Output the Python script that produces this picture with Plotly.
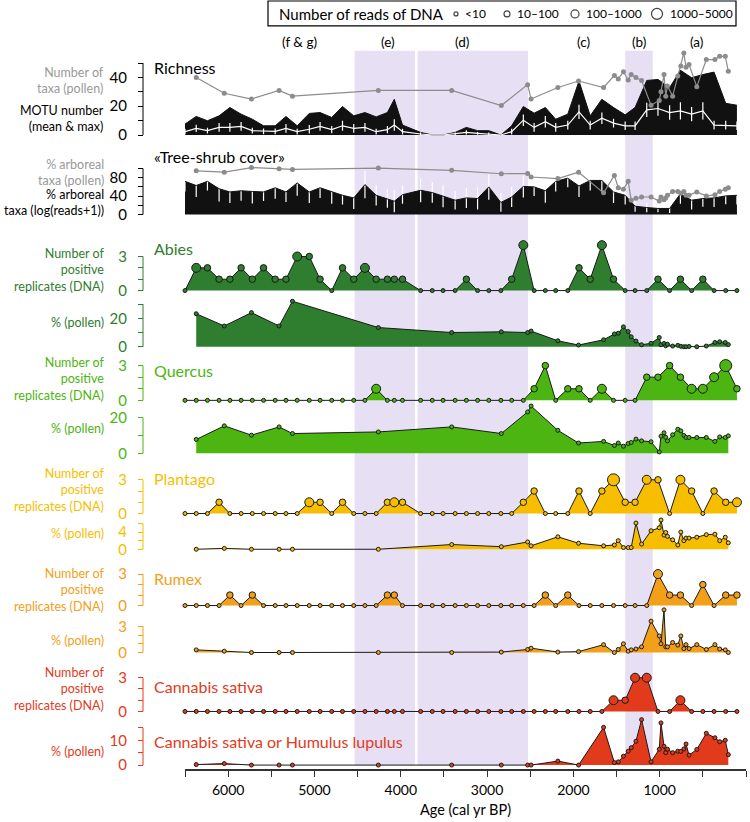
import plotly.graph_objects as go

W, H = 750, 822
FONT = "Lato"

# sample ages (cal yr BP)
dna_age = [6500, 6370, 6240, 6105, 5980, 5850, 5720, 5590, 5455, 5330,
           5200, 5060, 4935, 4800, 4675, 4545, 4415, 4285, 4155, 4075,
           3980, 3770, 3635, 3510, 3370, 3240, 3110, 2980, 2840, 2715,
           2580, 2455, 2325, 2205, 2065, 1935, 1805, 1670, 1535, 1400,
           1285, 1150, 1020, 885, 760, 630, 500, 370, 235, 105]
pollen_age = [6370, 6045, 5730, 5410, 5255, 4260, 3410, 2835, 2530, 2490,
              2180, 1940, 1650, 1525, 1480, 1420, 1365, 1330, 1275, 1210,
              1100, 1005, 985, 950, 930, 910, 850, 790, 755, 720,
              695, 660, 570, 460, 360, 305, 240, 205]

# richness
motu_max = [7.6, 12.9, 9.9, 13.3, 19.1, 14.5, 11, 6.4, 6.4, 12.9,
            6.4, 15, 15.6, 12.2, 19.8, 13.3, 15.6, 12.6, 15.6, 24.8,
            6.9, 1.8, 0, 0, 1.8, 5.3, 3, 3, 0, 6.4,
            19.8, 15.2, 19.1, 11, 14.5, 37.5, 13.3, 24.8, 19.1, 14,
            19.1, 37.9, 38.6, 32.9, 45, 39.8, 42, 43.7, 22, 20.7]
motu_mean = [2.3, 4.6, 3, 5.3, 5.3, 6, 3, 2.5, 2.5, 4.6,
             2.3, 4, 6, 3.7, 6.4, 4.6, 5.3, 2.3, 3.7, 7,
             2.3, 0.7, 0, 0, 0.7, 1.8, 1.1, 0.7, 0, 2.3,
             10.3, 5.3, 9.2, 5.3, 6.9, 16.1, 6.9, 11.7, 8.3, 6.4,
             6.4, 17.5, 18.4, 15.6, 16.7, 14.5, 16.7, 6.9, 6.9, 6.4]
motu_sd = [2, 2.5, 2, 3, 3, 3, 2, 2, 2, 3,
           2, 3, 3, 2.5, 3.5, 3, 3, 2, 2.5, 4,
           2, 1, 0, 0, 1, 1.5, 1, 1, 0, 2,
           4, 3, 4, 3, 3, 5, 3, 4, 3, 3,
           3, 5, 5, 5, 6, 5, 6, 3, 3, 3]
taxa_pollen = [40, 29, 25, 31, 27, 31, 31, 20.5, 35, 25,
               33, 37.5, 33, 41.4, 39, 43.9, 38.2, 42, 40, 37.9,
               20.7, 24, 30, 42, 27, 34, 27, 41, 48, 57,
               47, 49, 33.6, 52.4, 52.4, 54.7, 54.7, 44.3]

# tree-shrub cover
arb_dna = [72, 63, 72, 56, 49, 51.6, 50, 49, 58, 49,
           68.5, 49, 58, 49, 41.7, 36, 65, 41.7, 34.6, 28.8,
           43, 52.6, 47.6, 39.6, 31, 36, 34.6, 60, 26, 38,
           61, 60, 51.6, 72, 79, 62, 74, 74, 49, 41.7,
           18, 15, 13, 13, 45, 31, 34.6, 36, 40.4, 41.7]
arb_dna_sd = [22, 25, 20, 28, 24, 22, 26, 20, 24, 22,
              28, 24, 22, 26, 20, 24, 30, 22, 20, 24,
              20, 26, 22, 24, 20, 22, 24, 28, 20, 22,
              24, 20, 26, 22, 20, 24, 22, 26, 24, 20,
              12, 10, 8, 10, 22, 20, 18, 20, 18, 20]
arb_pollen = [95, 92, 102, 99.5, 98, 101, 96, 88.6, 89, 81.5,
              78, 92, 47, 85, 58, 55, 72, 31, 35, 38,
              38, 29, 38, 32, 36, 42, 50, 50, 46, 50,
              42, 42, 49, 40, 43, 50, 55, 58]

# positive replicates (DNA) and read classes (1:<10, 2:10-100, 3:100-1000, 4:1000-5000)
abies_dna = [0, 2, 2, 1, 1, 2, 1, 2, 1, 1, 3, 3, 1, 0, 2, 1, 2, 1, 1, 1,
             1, 0, 0, 0, 0, 1, 0, 0, 0, 1, 4, 0, 0, 0, 0, 2, 1, 4, 1, 0,
             0, 0, 1, 0, 1, 0, 1, 0, 0, 0]
abies_cls = [1, 3, 2, 2, 2, 2, 2, 2, 2, 2, 3, 2, 2, 1, 2, 2, 3, 2, 2, 2,
             2, 1, 1, 1, 1, 2, 1, 1, 1, 2, 3, 1, 1, 1, 1, 2, 2, 3, 2, 1,
             1, 1, 2, 1, 2, 1, 2, 1, 1, 1]
quercus_dna = [0, 0, 0, 0, 0, 0, 0, 0, 0, 0, 0, 0, 0, 0, 0, 0, 0, 1, 0, 0,
               0, 0, 0, 0, 0, 0, 0, 0, 0, 0, 0, 1, 3, 0, 1, 1, 0, 1, 0, 0,
               0, 2, 2, 3, 2, 1, 1, 2, 3, 1]
quercus_cls = [1, 1, 1, 1, 1, 1, 1, 1, 1, 1, 1, 1, 1, 1, 1, 1, 1, 3, 1, 1,
               1, 1, 1, 1, 1, 1, 1, 1, 1, 1, 1, 2, 2, 1, 2, 2, 1, 3, 1, 1,
               1, 2, 2, 2, 2, 3, 3, 3, 4, 2]
plantago_dna = [0, 0, 0, 1, 0, 0, 0, 0, 0, 0, 0, 1, 1, 0, 1, 0, 0, 0, 1, 1,
                1, 0, 0, 0, 0, 0, 0, 0, 0, 0, 1, 2, 0, 0, 0, 2, 0, 2, 3, 1,
                1, 3, 3, 0, 3, 2, 0, 2, 1, 1]
plantago_cls = [1, 1, 1, 2, 1, 1, 1, 1, 1, 1, 1, 3, 2, 1, 2, 1, 1, 1, 2, 3,
                2, 1, 1, 1, 1, 1, 1, 1, 1, 1, 2, 2, 1, 1, 1, 2, 1, 2, 4, 2,
                2, 3, 2, 1, 3, 2, 1, 2, 2, 3]
rumex_dna = [0, 0, 0, 0, 1, 0, 1, 0, 0, 0, 0, 0, 0, 0, 0, 0, 0, 0, 1, 1,
             0, 0, 0, 0, 0, 0, 0, 0, 0, 0, 0, 0, 1, 0, 1, 0, 0, 0, 0, 0,
             0, 0, 3, 1, 1, 0, 2, 0, 1, 1]
rumex_cls = [1, 1, 1, 1, 2, 1, 2, 1, 1, 1, 1, 1, 1, 1, 1, 1, 1, 1, 2, 2,
             1, 1, 1, 1, 1, 1, 1, 1, 1, 1, 1, 1, 2, 1, 2, 1, 1, 1, 1, 1,
             1, 1, 3, 2, 2, 1, 2, 1, 2, 2]
cannabis_dna = [0, 0, 0, 0, 0, 0, 0, 0, 0, 0, 0, 0, 0, 0, 0, 0, 0, 0, 0, 0,
                0, 0, 0, 0, 0, 0, 0, 0, 0, 0, 0, 0, 0, 0, 0, 0, 0, 0, 1, 1,
                3, 3, 0, 0, 1, 0, 0, 0, 0, 0]
cannabis_cls = [1, 1, 1, 1, 1, 1, 1, 1, 1, 1, 1, 1, 1, 1, 1, 1, 1, 1, 1, 1,
                1, 1, 1, 1, 1, 1, 1, 1, 1, 1, 1, 1, 1, 1, 1, 1, 1, 1, 3, 2,
                3, 3, 1, 1, 3, 1, 1, 1, 1, 1]

# pollen percentages
abies_pol = [23.2, 14.6, 24, 14.6, 32, 13.5, 10, 10.5, 10, 11,
             4.2, 1.2, 4.9, 9, 9.5, 14, 10.7, 7, 4, 1.4,
             2.4, 6.5, 1.4, 2.3, 0.7, 1.8, 0.5, 1, 0.3, 0,
             0, 0.2, 0, 0.5, 3, 3.5, 3, 1.5]
quercus_pol = [7.8, 15.4, 10.2, 14.8, 11.1, 12, 14.8, 11.1, 23.2, 26.5,
               12.9, 5.8, 6.7, 4.4, 5.8, 4, 5.5, 6.1, 8, 7,
               6.5, 0.8, 9.6, 11.5, 9, 7, 10.4, 13.5, 12.6, 10,
               8.9, 8.9, 8.9, 8.9, 6.7, 9.2, 8.9, 9.8]
plantago_pol = [0, 0.2, 0, 0, 0, 0, 1.1, 0.6, 1.7, 0.8,
                2.9, 1.4, 0.8, 1, 2, 0.4, 0.4, 0.4, 6.1, 1.2,
                4.3, 5, 6.8, 3.3, 3.9, 3, 2.2, 1, 4, 2,
                2.6, 2.6, 2.8, 3.4, 3.5, 2, 2.8, 1.5]
rumex_pol = [0.3, 0.15, 0, 0, 0, 0, 0, 0.05, 0.35, 0.5,
             0.05, 0.1, 0.9, 0, 0.35, 1.0, 0.15, 0.3, 0.4, 0.65,
             3.6, 1.9, 1.0, 4.9, 0.65, 0.65, 1.15, 0.85, 1.9, 0.45,
             0.9, 0.45, 0.9, 0.35, 0.9, 0.4, 0.3, 0]
cannabis_pol = [0.2, 0.6, 0, 0, 0, 0, 0, 0, 0, 0,
                1.6, 0, 15.2, 1, 1.3, 3.6, 5.6, 7, 9.6, 18.3,
                1.3, 6.4, 17, 7.6, 5, 6.4, 5, 5.6, 5.5, 6.5,
                8.5, 4, 6.3, 12.8, 11, 9.4, 10, 4.2]

periods = ["(f & g)", "(e)", "(d)", "(c)", "(b)", "(a)"]
period_pos = [5170, 4150, 3290, 1880, 1240, 570]
bands = [(4535, 3835), (3805, 2525), (1400, 1080)]
age_ticks = [6500, 6000, 5500, 5000, 4500, 4000, 3500, 3000, 2500, 2000, 1500, 1000, 500, 0]
read_classes = ["<10", "10\u2013100", "100\u20131000", "1000\u20135000"]

GREEN_D = "#2F7D2F"
GREEN_L = "#4DB511"
YELLOW = "#F7BE00"
ORANGE = "#F2A01A"
RED = "#E23B1C"
GREY = "#8C8C8C"
OUTLINE = "#1A1A1A"
SIZE = {1: 4, 2: 6.5, 3: 9, 4: 12}


def px(x):
    return x / W


def py(y):
    return (H - y) / H


fig = go.Figure()
shapes = []
annotations = []
AXIS_X = 143


def add_panel(n, zero, k, top, bottom, tickvals, ticktext, line_top, color):
    name = "yaxis" if n == 1 else f"yaxis{n}"
    ref = "y" if n == 1 else f"y{n}"
    fig.layout[name] = dict(
        domain=[py(bottom), py(top)],
        range=[(zero - bottom) / k, (zero - top) / k],
        anchor="free", position=px(AXIS_X), showgrid=False, zeroline=False,
        showline=False, ticks="outside", ticklen=5, tickwidth=1, tickcolor=color,
        tickvals=tickvals, ticktext=ticktext, ticklabelstandoff=8,
        tickfont=dict(family=FONT, size=15, color=color),
    )
    shapes.append(dict(type="line", xref="paper", yref=ref, x0=px(AXIS_X), x1=px(AXIS_X),
                       y0=0, y1=line_top, line=dict(color=color, width=1)))
    return ref


def dna_trace(ref, vals, cls, color):
    fig.add_trace(go.Scatter(
        x=dna_age, y=vals, xaxis="x", yaxis=ref, mode="lines+markers",
        fill="tozeroy", fillcolor=color, cliponaxis=False, opacity=1,
        line=dict(color=OUTLINE, width=1),
        marker=dict(size=[SIZE[c] for c in cls], color=color, opacity=1,
                    line=dict(color=OUTLINE, width=1)),
    ))


def pollen_trace(ref, vals, color):
    fig.add_trace(go.Scatter(
        x=pollen_age, y=vals, xaxis="x", yaxis=ref, mode="lines+markers",
        fill="tozeroy", fillcolor=color, cliponaxis=False,
        line=dict(color=OUTLINE, width=1),
        marker=dict(size=4, color=color, opacity=1, line=dict(color=OUTLINE, width=1)),
    ))


def left_title(text, y, color):
    annotations.append(dict(text=text, xref="paper", yref="paper", x=px(106), y=py(y),
                            xanchor="right", yanchor="middle", align="right", showarrow=False,
                            font=dict(family=FONT, size=12.5, color=color)))


def name_label(text, y, color):
    annotations.append(dict(text=text, xref="paper", yref="paper", x=px(152), y=py(y),
                            xanchor="left", yanchor="middle", showarrow=False,
                            font=dict(family=FONT, size=16, color=color)))


# richness
r1 = add_panel(1, 136, 1.45, 50, 140, [0, 10, 20, 30, 40, 50], ["0", "", "20", "", "40", ""], 50, "black")
fig.add_trace(go.Scatter(x=dna_age, y=motu_max, xaxis="x", yaxis=r1, mode="lines",
                         fill="tozeroy", fillcolor="#111111", line=dict(color="#111111", width=1)))
fig.add_trace(go.Scatter(x=dna_age, y=motu_mean, xaxis="x", yaxis=r1, mode="lines",
                         line=dict(color="white", width=1.2),
                         error_y=dict(type="data", array=motu_sd, color="white", thickness=1.2, width=0)))
fig.add_trace(go.Scatter(x=pollen_age, y=taxa_pollen, xaxis="x", yaxis=r1, mode="lines+markers",
                         cliponaxis=False, line=dict(color=GREY, width=1.2),
                         marker=dict(size=5, color=GREY)))
name_label("Richness", 68, "black")
left_title("Number of<br>taxa (pollen)", 81, "#999999")
left_title("MOTU number<br>(mean & max)", 119, "black")

# tree-shrub cover
r2 = add_panel(2, 216, 0.4625, 158, 220, [0, 20, 40, 60, 80, 100], ["0", "", "40", "", "80", ""], 100, "black")
fig.add_trace(go.Scatter(x=dna_age, y=arb_dna, xaxis="x", yaxis=r2, mode="lines",
                         fill="tozeroy", fillcolor="#111111", line=dict(color="#111111", width=1),
                         error_y=dict(type="data", array=arb_dna_sd, color="white", thickness=1.2, width=0)))
fig.add_trace(go.Scatter(x=pollen_age, y=arb_pollen, xaxis="x", yaxis=r2, mode="lines+markers",
                         cliponaxis=False, line=dict(color=GREY, width=1.2),
                         marker=dict(size=5, color=GREY)))
name_label("\u00abTree-shrub cover\u00bb", 158, "black")
left_title("% arboreal<br>taxa (pollen)", 174, "#999999")
left_title("% arboreal<br>taxa (log(reads+1))", 204, "black")

# species panels
species = [
    ("Abies", GREEN_D, abies_dna, abies_cls, abies_pol,
     (292.7, 11.44, 240, 296), (349.3, 1.433, 296, 352), [0, 10, 20, 30], ["0", "", "20", ""], 30,
     250, 272, 325),
    ("Quercus", GREEN_L, quercus_dna, quercus_cls, quercus_pol,
     (403.3, 11.67, 358, 406), (456.7, 1.8, 406, 459), [0, 10, 20], ["0", "", "20"], 20,
     373, 382, 432),
    ("Plantago", YELLOW, plantago_dna, plantago_cls, plantago_pol,
     (517.3, 11.33, 465, 520), (553.3, 4.33, 520, 556), [0, 2, 4, 6], ["0", "", "4", ""], 6,
     482, 494, 537),
    ("Rumex", ORANGE, rumex_dna, rumex_cls, rumex_pol,
     (610, 10.57, 568, 613), (657.3, 8.77, 613, 660), [0, 1, 2, 3], ["0", "", "", "3"], 3,
     583, 594, 645),
    ("Cannabis sativa", RED, cannabis_dna, cannabis_cls, cannabis_pol,
     (716.7, 11.33, 672, 720), (770.7, 2.5, 720, 774), [0, 5, 10, 15], ["0", "", "10", ""], 15,
     692, 694.5, 757),
]
n = 3
for label, color, dvals, dcls, pvals, dgeo, pgeo, ptv, ptt, ptop, ylab, ydt, ypt in species:
    rd = add_panel(n, *dgeo, [0, 1, 2, 3], ["0", "", "", "3"], 3, color)
    dna_trace(rd, dvals, dcls, color)
    rp = add_panel(n + 1, *pgeo, ptv, ptt, ptop, color)
    pollen_trace(rp, pvals, color)
    name_label(label, ylab, color)
    left_title("Number of<br>positive<br>replicates (DNA)", ydt, color)
    left_title("% (pollen)", ypt, color)
    n += 2
name_label("Cannabis sativa or Humulus lupulus", 747, RED)

# period bands and labels
for a0, a1 in bands:
    shapes.append(dict(type="rect", xref="x", yref="paper", x0=a0, x1=a1, y0=py(771), y1=py(51),
                       fillcolor="#E7E0F5", line=dict(width=0), layer="below"))
for t, a in zip(periods, period_pos):
    annotations.append(dict(text=t, xref="x", yref="paper", x=a, y=py(42), showarrow=False,
                            xanchor="center", yanchor="middle",
                            font=dict(family=FONT, size=13.5, color="black")))

# reads legend
shapes.append(dict(type="rect", xref="paper", yref="paper", x0=px(268), x1=px(736),
                   y0=py(26), y1=py(1), line=dict(color="black", width=1.2), fillcolor="white"))
annotations.append(dict(text="Number of reads of DNA", xref="paper", yref="paper", x=px(277), y=py(14),
                        xanchor="left", yanchor="middle", showarrow=False,
                        font=dict(family=FONT, size=15, color="black")))
leg_x = [456, 507, 575, 657]
leg_d = [4, 6, 8, 11]
for cx, d, t in zip(leg_x, leg_d, read_classes):
    shapes.append(dict(type="circle", xref="paper", yref="paper",
                       x0=px(cx - d / 2), x1=px(cx + d / 2), y0=py(14 + d / 2), y1=py(14 - d / 2),
                       line=dict(color="#444444", width=1.2), fillcolor="white"))
    annotations.append(dict(text=t, xref="paper", yref="paper", x=px(cx + d / 2 + 5), y=py(14),
                            xanchor="left", yanchor="middle", showarrow=False,
                            font=dict(family=FONT, size=12, color="black")))

annotations.append(dict(text="Age (cal yr BP)", xref="paper", yref="paper", x=px(465), y=py(815),
                        xanchor="center", yanchor="middle", showarrow=False,
                        font=dict(family=FONT, size=14.5, color="black")))

fig.update_layout(
    width=W, height=H, margin=dict(l=0, r=0, t=0, b=0),
    paper_bgcolor="white", plot_bgcolor="rgba(0,0,0,0)", showlegend=False, hovermode=False,
    xaxis=dict(domain=[px(185), px(746)], range=[6500, 0], anchor="free", position=py(776),
               showgrid=False, zeroline=False, showline=True, linecolor="#333333", linewidth=1.5,
               ticks="outside", ticklen=6, tickcolor="#333333", ticklabelstandoff=1,
               tickvals=age_ticks, ticktext=[str(a) if a % 1000 == 0 else "" for a in age_ticks],
               tickfont=dict(family=FONT, size=14, color="black")),
    shapes=shapes, annotations=annotations,
)

fig.write_html("out.html", config={"displayModeBar": False},
               post_script="document.body.style.margin='0';")
